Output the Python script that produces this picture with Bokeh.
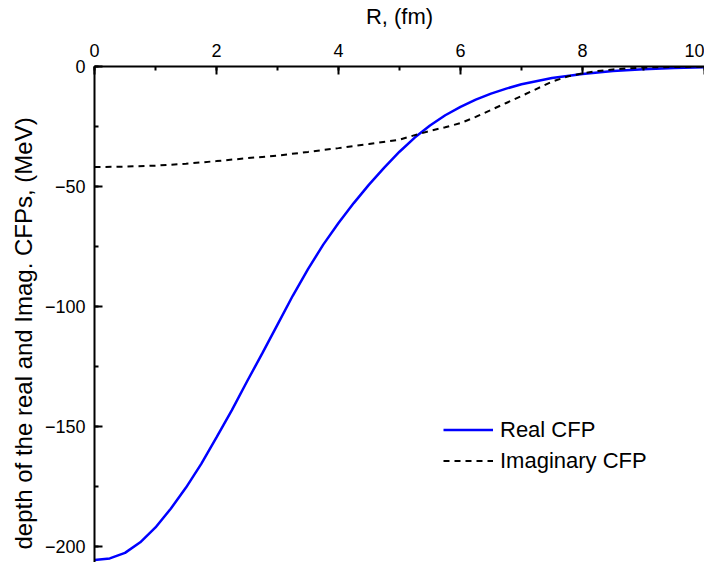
from bokeh.plotting import figure
from bokeh.models import SingleIntervalTicker, Range1d, Title
from bokeh.embed import file_html
from bokeh.resources import INLINE

# Real CFP (R in fm, depth in MeV)
r_real = [0.0, 0.25, 0.5, 0.75, 1.0, 1.25, 1.5, 1.75, 2.0, 2.25, 2.5, 2.75, 3.0, 3.25,
          3.5, 3.75, 4.0, 4.25, 4.5, 4.75, 5.0, 5.25, 5.5, 5.75, 6.0, 6.25, 6.5, 6.75,
          7.0, 7.5, 8.0, 8.5, 9.0, 9.5, 10.0]
v_real = [-205.6, -204.9, -202.6, -198.2, -192.0, -184.2, -175.4, -165.5, -154.5, -143.2,
          -131.2, -119.5, -107.5, -95.5, -84.4, -74.2, -65.2, -56.9, -49.2, -42.1,
          -35.5, -29.6, -24.6, -20.3, -16.8, -13.8, -11.3, -9.2, -7.4, -4.8, -3.1,
          -1.9, -1.1, -0.6, -0.3]

# Imaginary CFP
r_imag = [0.0, 0.5, 1.0, 1.5, 2.0, 2.5, 3.0, 3.5, 4.0, 4.5, 5.0, 5.25, 5.5, 5.75, 6.0,
          6.25, 6.5, 6.75, 7.0, 7.25, 7.5, 7.75, 8.0, 8.25, 8.5, 9.0, 9.5, 10.0]
v_imag = [-41.9, -41.7, -41.3, -40.5, -39.4, -38.2, -37.1, -35.6, -34.0, -32.3, -30.5,
          -28.6, -26.8, -25.3, -23.6, -21.0, -18.1, -15.2, -12.3, -9.3, -6.3, -4.2,
          -2.8, -1.9, -1.2, -0.4, -0.2, -0.1]

x_label = "R, (fm)"
y_label = "depth of the real and Imag. CFPs, (MeV)"
series_names = ["Real CFP", "Imaginary CFP"]

FONT = "Liberation Sans"

p = figure(width=704, height=562, output_backend="svg", toolbar_location=None,
           x_axis_location="above", x_range=Range1d(0, 10), y_range=Range1d(-206.6, 0),
           min_border_left=94, min_border_right=0, min_border_top=60, min_border_bottom=0)
p.outline_line_color = None
p.xgrid.visible = False
p.ygrid.visible = False

p.line(r_real, v_real, line_color="#0000ff", line_width=2.5, legend_label=series_names[0])
p.line(r_imag, v_imag, line_color="black", line_width=2, line_dash="6 5",
       legend_label=series_names[1])

for ax, interval in ((p.xaxis[0], 2), (p.yaxis[0], 50)):
    ax.ticker = SingleIntervalTicker(interval=interval, num_minor_ticks=2)
    ax.axis_line_width = 2
    ax.major_tick_line_width = 2
    ax.minor_tick_line_width = 2
    ax.major_tick_in = 8
    ax.major_tick_out = 0
    ax.minor_tick_in = 4
    ax.minor_tick_out = 0
    ax.major_label_text_font = FONT
    ax.major_label_text_font_size = "18px"
    ax.major_label_text_color = "black"
    ax.axis_label_text_font = FONT
    ax.axis_label_text_font_style = "normal"
    ax.axis_label_text_color = "black"

p.xaxis.major_label_standoff = 10
p.yaxis.major_label_standoff = 9
p.xaxis.axis_label = x_label
p.xaxis.axis_label_text_font_size = "22px"
p.xaxis.axis_label_standoff = 12

ytitle = Title(text=y_label, align="left", offset=13, standoff=10,
               text_font=FONT, text_font_size="24px", text_font_style="normal",
               text_color="black")
p.add_layout(ytitle, "left")

leg = p.legend[0]
leg.location = (349, 86)
leg.border_line_color = None
leg.background_fill_alpha = 0
leg.glyph_width = 50
leg.glyph_height = 31
leg.label_height = 31
leg.spacing = 0
leg.padding = 0
leg.margin = 0
leg.label_standoff = 7
leg.label_text_font = FONT
leg.label_text_font_size = "22px"
leg.label_text_color = "black"

open("out.html", "w").write(file_html(p, INLINE))
